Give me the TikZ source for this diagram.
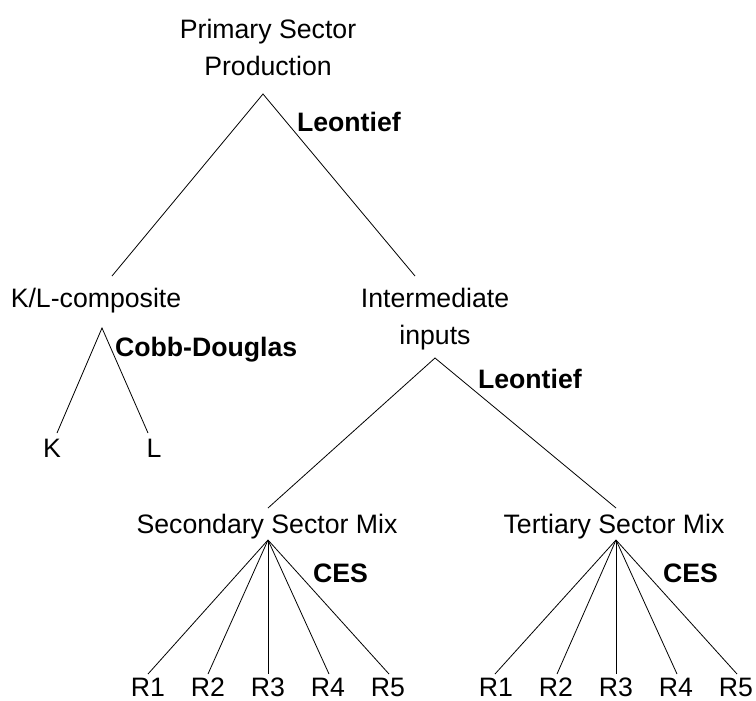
\documentclass[tikz,border=0pt]{standalone}
\usepackage{fontspec}
\setmainfont{Liberation Sans}
\begin{document}
\begin{tikzpicture}[x=0.75pt,y=-0.75pt,
  every node/.style={font=\fontsize{20}{27.75}\selectfont, inner sep=0pt, outer sep=0pt, anchor=base},
  rule/.style={font=\fontsize{20}{27.75}\selectfont\bfseries, anchor=base west},
  branch/.style={line width=0.6pt}]
\useasboundingbox (0,0) rectangle (756,700);

\node[align=center, anchor=north] (prim) at (268,19) {Primary Sector\\Production};
\node (kl) at (96,307) {K/L-composite};
\node[align=center, anchor=north] (inter) at (435,288) {Intermediate\\inputs};
\node (k) at (52,457) {K};
\node (l) at (154,457) {L};
\node (sec) at (267,533) {Secondary Sector Mix};
\node (ter) at (614,533) {Tertiary Sector Mix};
\foreach \x [count=\n] in {148,208,268,328,388} \node (sec\n) at (\x,696) {R\n};
\foreach \x [count=\n] in {496,556,616,676,736} \node (ter\n) at (\x,696) {R\n};

\node[rule] (rule1) at (297,131) {Leontief};
\node[rule] (rule2) at (115,356) {Cobb-Douglas};
\node[rule] (rule3) at (478,388) {Leontief};
\node[rule] (rule4) at (313,582) {CES};
\node[rule] (rule5) at (663,582) {CES};

\coordinate (prim-b) at (263,94);
\coordinate (kl-t) at (112,276);
\coordinate (inter-t) at (415,276);
\coordinate (kl-b) at (102,328);
\coordinate (k-t) at (57,433);
\coordinate (l-t) at (148,433);
\coordinate (inter-b) at (435,358);
\coordinate (sec-t) at (268,508);
\coordinate (ter-t) at (616,508);
\coordinate (sec-b) at (268,540);
\coordinate (ter-b) at (616,540);
\foreach \x [count=\n] in {148,208,268,329,389} \coordinate (sec\n-t) at (\x,674);
\foreach \x [count=\n] in {495,557,616,677,737} \coordinate (ter\n-t) at (\x,674);

\draw[branch] (kl-t) -- (prim-b) -- (inter-t);
\draw[branch] (k-t) -- (kl-b) -- (l-t);
\draw[branch] (sec-t) -- (inter-b) -- (ter-t);
\foreach \n in {1,...,5} {
  \draw[branch] (sec-b) -- (sec\n-t);
  \draw[branch] (ter-b) -- (ter\n-t);
}
\end{tikzpicture}
\end{document}
